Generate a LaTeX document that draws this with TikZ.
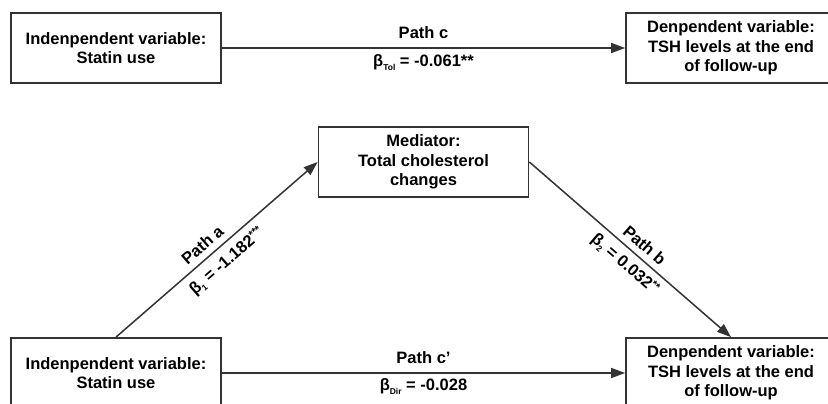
\documentclass[tikz,border=0pt]{standalone}
\usepackage{fontspec}
\setmainfont{Liberation Sans}
\usetikzlibrary{arrows.meta}
\definecolor{ln}{HTML}{333333}
\newcommand{\bsub}[1]{\raisebox{-0.4ex}{\fontsize{8.5}{8.5}\selectfont #1}}
\newcommand{\bsup}[1]{\raisebox{0.6ex}{\fontsize{10.5}{10.5}\selectfont #1}}
\begin{document}
\begin{tikzpicture}[x=1pt,y=-1pt,
  box/.style={draw=ln,line width=1.8pt,fill=white,minimum width=210pt,minimum height=70pt,
    align=center,font=\fontsize{16.5}{19.5}\selectfont\bfseries,text=black,inner sep=0pt},
  conn/.style={draw=ln,line width=1.5pt,-{Triangle[length=14pt,width=10pt]}},
  lbl/.style={font=\fontsize{16.5}{19}\selectfont\bfseries,text=black,inner sep=3pt}]
\path[use as bounding box] (0,0) rectangle (828,404);
\clip (0,0) rectangle (828,404);
\fill[white] (0,0) rectangle (828,404);
% top row
\node[box] (iv1) at (116,48) {Indenpendent variable:\\Statin use};
\node[box] (dv1) at (731,48) {Denpendent variable:\\TSH levels at the end\\of follow-up};
% mediator
\node[box] (med) at (423.5,162) {Mediator:\\Total cholesterol\\changes};
% bottom row
\node[box] (iv2) at (116,373) {Indenpendent variable:\\Statin use};
\node[box] (dv2) at (731,373) {Denpendent variable:\\TSH levels at the end\\of follow-up};
% connectors
\draw[conn] (iv1) -- node[lbl,above,inner sep=9pt]{Path c} node[lbl,below,inner sep=6pt]{β\bsub{Tol} = -0.061**} (dv1);
\draw[conn] (iv2) -- node[lbl,above,inner sep=9pt]{Path c’} node[lbl,below,inner sep=5pt]{β\bsub{Dir} = -0.028} (dv2);
\draw[conn] (iv2.north) -- node[lbl,above,sloped,inner sep=6pt,pos=0.47]{Path a} node[lbl,below,sloped,inner sep=7pt,pos=0.5]{β\bsub{1} = -1.182\bsup{***}} (med.west);
\draw[conn] (med.east) -- node[lbl,above,sloped,inner sep=6pt,pos=0.53]{Path b} node[lbl,below,sloped,inner sep=6pt,pos=0.52]{β\bsub{2} = 0.032\bsup{**}} (dv2.north);
\end{tikzpicture}
\end{document}
